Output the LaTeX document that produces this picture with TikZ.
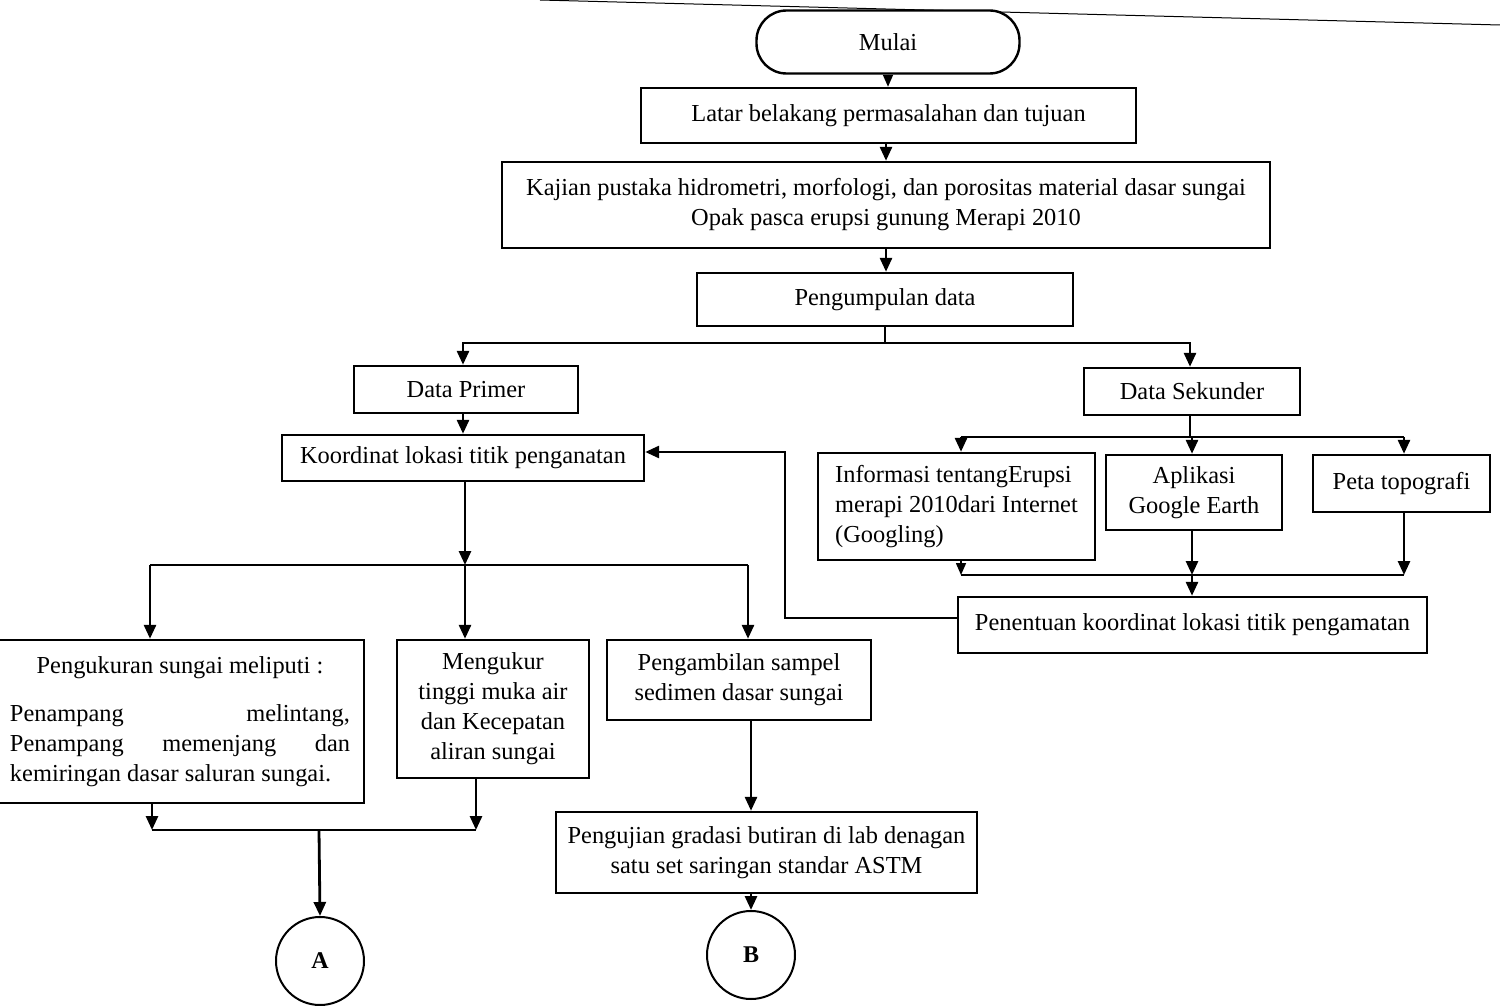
\documentclass[tikz,border=0pt]{standalone}
\usepackage{fontspec}
\setmainfont{Liberation Serif}
\usetikzlibrary{arrows.meta,calc}
\begin{document}
\begin{tikzpicture}[x=0.5pt,y=-0.5pt,
  every node/.style={font=\fontsize{12.2}{15}\selectfont},
  box/.style={draw,line width=1.2pt,fill=white,inner sep=2pt,align=center},
  term/.style={box,rounded corners=15pt},
  conn/.style={draw,circle,line width=1pt,fill=white,minimum size=44pt,inner sep=0pt,font=\fontsize{12}{13}\selectfont\bfseries},
  ln/.style={line width=1.4pt},
  arr/.style={line width=1.4pt,-{Triangle[length=7pt,width=6pt]}},
  thinarr/.style={line width=0.8pt,-{Triangle[length=6pt,width=5pt]}}]
\useasboundingbox (0,0) rectangle (1500,1006);
% scan edge line
\coordinate (e1) at (540,0); \coordinate (e2) at (1500,25);
\draw[line width=0.5pt] (e1) -- (e2);

% nodes
\node[term,minimum width=131.5pt,minimum height=31.5pt] (mulai) at (888,42) {Mulai};
\node[box,minimum width=247.5pt,minimum height=27.5pt] (latar) at (888.5,115.5) {Latar belakang permasalahan dan tujuan};
\node[box,minimum width=384pt,minimum height=43pt] (kajian) at (886,205) {Kajian pustaka hidrometri, morfologi, dan porositas material dasar sungai\\Opak pasca erupsi gunung Merapi 2010};
\node[box,minimum width=188pt,minimum height=26.5pt] (kumpul) at (885,299.5) {Pengumpulan data};
\node[box,minimum width=112pt,minimum height=23.5pt] (primer) at (466,389.5) {Data Primer};
\node[box,minimum width=108pt,minimum height=23.5pt] (sekunder) at (1192,391.5) {Data Sekunder};
\node[box,minimum width=181pt,minimum height=23pt] (koord) at (463,458) {Koordinat lokasi titik penganatan};
\node[box,minimum width=138.5pt,minimum height=53.5pt,align=left] (info) at (956.5,506.5) {Informasi tentangErupsi\\merapi 2010dari Internet\\(Googling)};
\node[box,minimum width=88pt,minimum height=37.5pt] (apl) at (1194,492.5) {Aplikasi\\Google Earth};
\node[box,minimum width=88.5pt,minimum height=28.5pt] (peta) at (1401.5,483.5) {Peta topografi};
\node[box,minimum width=234.5pt,minimum height=28pt] (tentu) at (1192.5,625) {Penentuan koordinat lokasi titik pengamatan};
\node[box,minimum width=184pt,minimum height=81.5pt,inner sep=0pt] (ukur) at (180,721.5)
 {\parbox{170pt}{\centerline{Pengukuran sungai meliputi :}\vspace{9pt}\hbox to\linewidth{Penampang\hfill melintang,}\hbox to\linewidth{Penampang\hfill memenjang\hfill dan}\hbox to\linewidth{kemiringan dasar saluran sungai.\hfill}}};
\node[box,minimum width=96pt,minimum height=69pt] (meng) at (493,709) {Mengukur\\tinggi muka air\\dan Kecepatan\\aliran sungai};
\node[box,minimum width=132pt,minimum height=40pt] (ambil) at (739,680) {Pengambilan sampel\\sedimen dasar sungai};
\node[box,minimum width=210.5pt,minimum height=40.5pt] (uji) at (766.5,852.5) {Pengujian gradasi butiran di lab denagan\\satu set saringan standar ASTM};
\node[conn] (A) at (320,961) {A};
\node[conn] (B) at (751,955) {B};

% top chain
\draw[thinarr] (mulai.south) -- (mulai.south |- latar.north);
\draw[arr] (latar.south -| kajian.north) -- (kajian.north);
\draw[arr] (kajian.south) -- (kajian.south |- kumpul.north);

% split primer / sekunder
\coordinate (c1) at (885,343);
\draw[ln] (kumpul.south) -- (c1);
\draw[arr] (c1) -| ($(primer.north)+(-3,0)$);
\draw[arr] (c1) -| ($(sekunder.north)+(-2,0)$);

% primer branch
\draw[arr] ($(primer.south)+(-3,0)$) -- ($(primer.south |- koord.north)+(-3,0)$);
\coordinate (j1) at (465,565);
\coordinate (jL) at (150,565);
\coordinate (jR) at (748,565);
\draw[arr] (koord.south -| j1) -- (j1);
\draw[ln] (jL) -- (jR);
\draw[arr] (jL) -- (jL |- ukur.north);
\draw[arr] (j1) -- (j1 |- meng.north);
\draw[arr] (jR) -- (jR |- ambil.north);

\coordinate (k1) at (152,830);
\coordinate (k2) at (476,830);
\coordinate (kA) at (319,830);
\draw[arr] (ukur.south -| k1) -- (k1);
\draw[arr] (meng.south -| k2) -- (k2);
\draw[ln] (k1) -- (k2);
\draw[arr] (kA) -- (A.north);

\coordinate (bx) at (751,0);
\draw[arr] (ambil.south -| bx) -- (uji.north -| bx);
\draw[arr] (uji.south -| bx) -- (B.north);

% sekunder branch
\coordinate (s1) at (1190,437);
\coordinate (sL) at (961,437);
\coordinate (sM) at (1192,437);
\coordinate (sR) at (1404,437);
\draw[ln] (sekunder.south -| s1) -- (s1);
\draw[ln] (sL) -- (sR);
\draw[arr] (sL) -- (sL |- info.north);
\draw[arr] (sM) -- (sM |- apl.north);
\draw[arr] (sR) -- (sR |- peta.north);

\coordinate (t1) at (961,575);
\coordinate (tM) at (1192,575);
\coordinate (t2) at (1404,575);
\draw[thinarr] (info.south -| t1) -- (t1);
\draw[arr] (apl.south -| tM) -- (tM);
\draw[arr] (peta.south -| t2) -- (t2);
\draw[ln] (t1) -- (t2);
\draw[arr] (tM) -- (tM |- tentu.north);

% feedback
\coordinate (f1) at (785,618);
\coordinate (f2) at (785,452);
\draw[arr] (tentu.west |- f1) -- (f1) -- (f2) -- (koord.east |- f2);
\end{tikzpicture}
\end{document}
